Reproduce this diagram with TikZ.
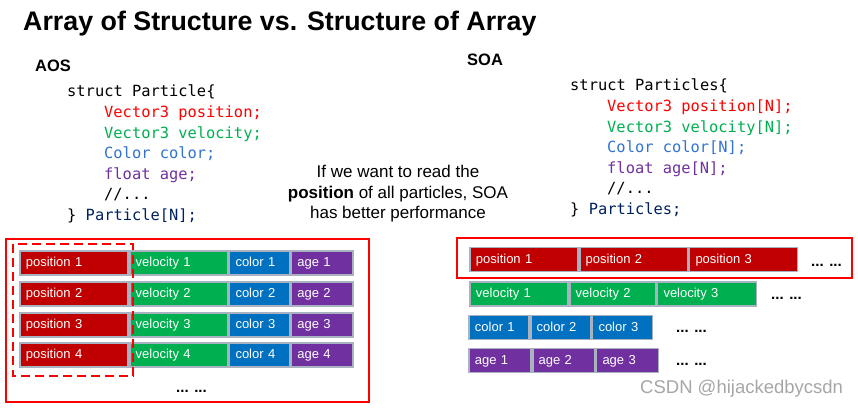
\documentclass[tikz,border=0pt]{standalone}
\usepackage{fontspec}
\setmainfont{Liberation Sans}
\setmonofont{DejaVu Sans Mono}
\usepackage{xcolor}
\definecolor{posred}{RGB}{192, 0, 0}
\definecolor{velgreen}{RGB}{0, 176, 80}
\definecolor{colblue}{RGB}{0, 112, 192}
\definecolor{agepurple}{RGB}{112, 48, 160}
\definecolor{cellgray}{RGB}{168, 178, 192}
\definecolor{framered}{RGB}{255, 0, 0}
\definecolor{codered}{RGB}{255, 0, 0}
\definecolor{codegreen}{RGB}{0, 176, 80}
\definecolor{codeblue}{RGB}{50, 115, 210}
\definecolor{codepurple}{RGB}{112, 48, 160}
\definecolor{codenavy}{RGB}{0, 32, 96}
\usetikzlibrary{positioning}

\begin{document}
\begin{tikzpicture}[
    x=1pt, y=-1pt,
    cell/.style={draw=cellgray, line width=1.8pt, minimum height=24pt, inner xsep=6pt, inner ysep=0pt, align=left, text=white, text height=9.5pt, text depth=2.5pt, font=\fontsize{13}{15}\selectfont},
    poscell/.style={cell, fill=posred},
    velcell/.style={cell, fill=velgreen},
    colcell/.style={cell, fill=colblue},
    agecell/.style={cell, fill=agepurple},
    code/.style={font=\ttfamily\fontsize{15.4}{20.6}\selectfont, align=left, inner sep=0pt, anchor=north west},
    label/.style={font=\bfseries\fontsize{16.5}{20}\selectfont, inner sep=0pt, anchor=base west},
    dots/.style={font=\bfseries\fontsize{15}{18}\selectfont, inner sep=0pt, anchor=base west},
    redframe/.style={draw=framered, line width=2.5pt},
    dashframe/.style={draw=framered, line width=2.5pt, dash pattern=on 9pt off 5pt}
]
\useasboundingbox (0,0) rectangle (858,407);

% Title
\node[font=\bfseries\fontsize{26.8}{32}\selectfont, inner sep=0pt, anchor=base west] (title) at (23,30) {Array of Structure vs. Structure of Array};

% AOS code
\node[label] (aoslabel) at (35,71) {AOS};
\node[code] (aoscode) at (67,85) {
    struct Particle\{\\
    \hspace*{37pt}\textcolor{codered}{Vector3 position;}\\
    \hspace*{37pt}\textcolor{codegreen}{Vector3 velocity;}\\
    \hspace*{37pt}\textcolor{codeblue}{Color color;}\\
    \hspace*{37pt}\textcolor{codepurple}{float age;}\\
    \hspace*{37pt}//...\\
    \} \textcolor{codenavy}{Particle[N];}
};

% SOA code
\node[label] (soalabel) at (467,65) {SOA};
\node[code] (soacode) at (570,79) {
    struct Particles\{\\
    \hspace*{37pt}\textcolor{codered}{Vector3 position[N];}\\
    \hspace*{37pt}\textcolor{codegreen}{Vector3 velocity[N];}\\
    \hspace*{37pt}\textcolor{codeblue}{Color color[N];}\\
    \hspace*{37pt}\textcolor{codepurple}{float age[N];}\\
    \hspace*{37pt}//...\\
    \} \textcolor{codenavy}{Particles;}
};

% Note in the middle
\node[font=\fontsize{17}{20.5}\selectfont, align=center, inner sep=0pt, anchor=north] (note) at (398,165) {
    If we want to read the\\
    \textbf{position} of all particles, SOA\\
    has better performance
};

% AOS memory layout
\node[poscell, text width=96pt, anchor=west] (a1pos) at (19,263) {position 1};
\node[velcell, text width=86pt, right=0pt of a1pos] (a1vel) {velocity 1};
\node[colcell, text width=48pt, right=0pt of a1vel] (a1col) {color 1};
\node[agecell, text width=50pt, right=0pt of a1col] (a1age) {age 1};

\node[poscell, text width=96pt, anchor=west] (a2pos) at (19,294) {position 2};
\node[velcell, text width=86pt, right=0pt of a2pos] (a2vel) {velocity 2};
\node[colcell, text width=48pt, right=0pt of a2vel] (a2col) {color 2};
\node[agecell, text width=50pt, right=0pt of a2col] (a2age) {age 2};

\node[poscell, text width=96pt, anchor=west] (a3pos) at (19,325) {position 3};
\node[velcell, text width=86pt, right=0pt of a3pos] (a3vel) {velocity 3};
\node[colcell, text width=48pt, right=0pt of a3vel] (a3col) {color 3};
\node[agecell, text width=50pt, right=0pt of a3col] (a3age) {age 3};

\node[poscell, text width=96pt, anchor=west] (a4pos) at (19,355) {position 4};
\node[velcell, text width=86pt, right=0pt of a4pos] (a4vel) {velocity 4};
\node[colcell, text width=48pt, right=0pt of a4vel] (a4col) {color 4};
\node[agecell, text width=50pt, right=0pt of a4col] (a4age) {age 4};

\node[dots] (aosdots) at (176,392) {... ...};

\draw[redframe] (6,239) rectangle (369,402);
\draw[dashframe] (13,244) rectangle (133,376);

% SOA memory layout
\node[poscell, text width=96pt, anchor=west] (s1pos) at (469,259.5) {position 1};
\node[poscell, text width=96pt, right=0pt of s1pos] (s2pos) {position 2};
\node[poscell, text width=96pt, right=0pt of s2pos] (s3pos) {position 3};
\node[dots] (posdots) at (811,266) {... ...};

\node[velcell, text width=86pt, anchor=west] (s1vel) at (469,294) {velocity 1};
\node[velcell, text width=74pt, right=0pt of s1vel] (s2vel) {velocity 2};
\node[velcell, text width=87pt, right=0pt of s2vel] (s3vel) {velocity 3};
\node[dots] (veldots) at (771,299) {... ...};

\node[colcell, text width=48pt, anchor=west] (s1col) at (468,327.5) {color 1};
\node[colcell, text width=48pt, right=0pt of s1col] (s2col) {color 2};
\node[colcell, text width=48pt, right=0pt of s2col] (s3col) {color 3};
\node[dots] (coldots) at (676,332) {... ...};

\node[agecell, text width=50pt, anchor=west] (s1age) at (468,360.5) {age 1};
\node[agecell, text width=50pt, right=0pt of s1age] (s2age) {age 2};
\node[agecell, text width=50pt, right=0pt of s2age] (s3age) {age 3};
\node[dots] (agedots) at (676,365) {... ...};

\draw[redframe] (457,238) rectangle (852,278);

% Watermark
\node[font=\fontsize{18.5}{22}\selectfont, text=black!35, inner sep=0pt, anchor=base west] (csdn) at (640,393) {CSDN @hijackedbycsdn};

\end{tikzpicture}
\end{document}
